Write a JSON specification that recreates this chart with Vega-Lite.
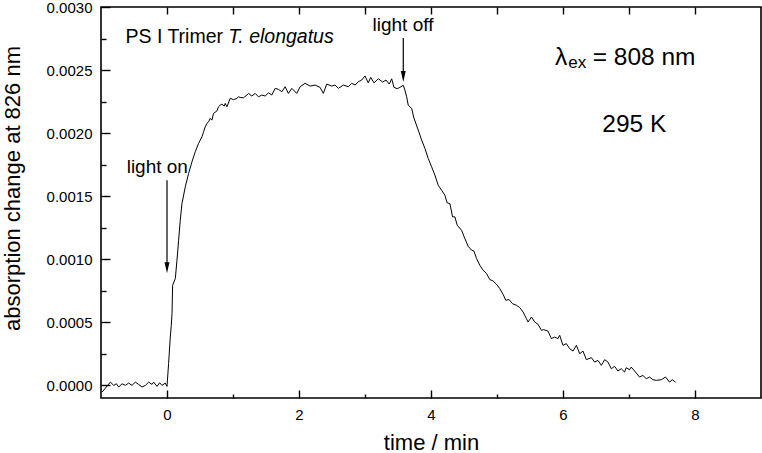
{
  "$schema": "https://vega.github.io/schema/vega-lite/v6.json",
  "autosize": {"type": "none"},
  "padding": {"left": 101, "top": 7, "right": 1, "bottom": 55},
  "width": 660,
  "height": 391,
  "background": "white",
  "config": {
    "view": {"stroke": "black", "strokeWidth": 1.6},
    "axis": {
      "domain": false, "grid": false,
      "tickColor": "black", "tickWidth": 1.4,
      "labelColor": "black", "labelFont": "Liberation Sans", "labelFontSize": 15,
      "titleFont": "Liberation Sans", "titleFontSize": 22, "titleFontWeight": "normal", "titleColor": "black"
    },
    "text": {"font": "Liberation Sans", "color": "black"}
  },
  "datasets": {
    "curve": [
      {"t": -0.983, "v": -0.000053}, {"t": -0.858, "v": 0.000026}, {"t": -0.807, "v": 0.0}, {"t": -0.767, "v": 0.000013},
      {"t": -0.732, "v": -0.000013}, {"t": -0.681, "v": 0.000013}, {"t": -0.631, "v": 0.0}, {"t": -0.581, "v": 0.000018},
      {"t": -0.530, "v": 0.0}, {"t": -0.480, "v": 0.000026}, {"t": -0.430, "v": 0.000008}, {"t": -0.378, "v": -0.000013},
      {"t": -0.328, "v": 0.0}, {"t": -0.278, "v": 0.000026}, {"t": -0.227, "v": 0.000008}, {"t": -0.203, "v": 0.000026},
      {"t": -0.151, "v": -0.000008}, {"t": -0.112, "v": 0.000021}, {"t": -0.076, "v": 0.0}, {"t": -0.026, "v": 0.000018},
      {"t": 0.0, "v": -0.000008}, {"t": 0.024, "v": 0.000172}, {"t": 0.05, "v": 0.000383}, {"t": 0.065, "v": 0.000476},
      {"t": 0.076, "v": 0.000571}, {"t": 0.085, "v": 0.000794}, {"t": 0.126, "v": 0.000847}, {"t": 0.151, "v": 0.000992},
      {"t": 0.176, "v": 0.001151}, {"t": 0.201, "v": 0.00131}, {"t": 0.227, "v": 0.001442}, {"t": 0.277, "v": 0.001574},
      {"t": 0.327, "v": 0.00168}, {"t": 0.378, "v": 0.001772}, {"t": 0.428, "v": 0.001852}, {"t": 0.478, "v": 0.001918},
      {"t": 0.530, "v": 0.001971}, {"t": 0.554, "v": 0.00201}, {"t": 0.579, "v": 0.00205}, {"t": 0.605, "v": 0.002077},
      {"t": 0.630, "v": 0.00209}, {"t": 0.655, "v": 0.002117}, {"t": 0.681, "v": 0.002103}, {"t": 0.705, "v": 0.002156},
      {"t": 0.756, "v": 0.002176}, {"t": 0.781, "v": 0.002209}, {"t": 0.806, "v": 0.002222}, {"t": 0.832, "v": 0.00223},
      {"t": 0.867, "v": 0.002214}, {"t": 0.882, "v": 0.002236}, {"t": 0.908, "v": 0.002209}, {"t": 0.958, "v": 0.002276},
      {"t": 1.008, "v": 0.002265}, {"t": 1.059, "v": 0.002276}, {"t": 1.084, "v": 0.002288}, {"t": 1.109, "v": 0.002283},
      {"t": 1.159, "v": 0.00228}, {"t": 1.210, "v": 0.002302}, {"t": 1.235, "v": 0.002315}, {"t": 1.286, "v": 0.002294},
      {"t": 1.336, "v": 0.002315}, {"t": 1.386, "v": 0.002288}, {"t": 1.437, "v": 0.002302}, {"t": 1.487, "v": 0.002294},
      {"t": 1.538, "v": 0.00232}, {"t": 1.588, "v": 0.002302}, {"t": 1.639, "v": 0.002355}, {"t": 1.689, "v": 0.002347},
      {"t": 1.740, "v": 0.002328}, {"t": 1.790, "v": 0.002368}, {"t": 1.840, "v": 0.002315}, {"t": 1.891, "v": 0.002355},
      {"t": 1.967, "v": 0.002315}, {"t": 2.017, "v": 0.002368}, {"t": 2.092, "v": 0.002395}, {"t": 2.168, "v": 0.002373},
      {"t": 2.244, "v": 0.002381}, {"t": 2.319, "v": 0.002363}, {"t": 2.369, "v": 0.002315}, {"t": 2.420, "v": 0.002389},
      {"t": 2.496, "v": 0.002373}, {"t": 2.546, "v": 0.002381}, {"t": 2.596, "v": 0.002355}, {"t": 2.672, "v": 0.002381},
      {"t": 2.747, "v": 0.002368}, {"t": 2.799, "v": 0.002395}, {"t": 2.849, "v": 0.002381}, {"t": 2.899, "v": 0.002407},
      {"t": 2.950, "v": 0.002421}, {"t": 3.0, "v": 0.002453}, {"t": 3.050, "v": 0.002399}, {"t": 3.086, "v": 0.002442},
      {"t": 3.136, "v": 0.002399}, {"t": 3.202, "v": 0.002431}, {"t": 3.268, "v": 0.002405}, {"t": 3.318, "v": 0.002421},
      {"t": 3.368, "v": 0.002389}, {"t": 3.404, "v": 0.002431}, {"t": 3.439, "v": 0.002363}, {"t": 3.489, "v": 0.002352},
      {"t": 3.529, "v": 0.002363}, {"t": 3.580, "v": 0.002379}, {"t": 3.605, "v": 0.002341}, {"t": 3.631, "v": 0.002288},
      {"t": 3.655, "v": 0.002222}, {"t": 3.707, "v": 0.002196}, {"t": 3.741, "v": 0.00212}, {"t": 3.806, "v": 0.002025},
      {"t": 3.858, "v": 0.001945}, {"t": 3.908, "v": 0.001879}, {"t": 3.958, "v": 0.001799}, {"t": 4.009, "v": 0.001733},
      {"t": 4.059, "v": 0.001667}, {"t": 4.109, "v": 0.001587}, {"t": 4.160, "v": 0.001548}, {"t": 4.210, "v": 0.001508},
      {"t": 4.245, "v": 0.001447}, {"t": 4.286, "v": 0.001442}, {"t": 4.327, "v": 0.001336}, {"t": 4.362, "v": 0.001336},
      {"t": 4.397, "v": 0.00127}, {"t": 4.463, "v": 0.00123}, {"t": 4.513, "v": 0.001164}, {"t": 4.563, "v": 0.001103},
      {"t": 4.614, "v": 0.001072}, {"t": 4.649, "v": 0.001066}, {"t": 4.690, "v": 0.001006}, {"t": 4.740, "v": 0.000952},
      {"t": 4.790, "v": 0.000913}, {"t": 4.841, "v": 0.000887}, {"t": 4.891, "v": 0.000839}, {"t": 4.941, "v": 0.000828},
      {"t": 4.992, "v": 0.000802}, {"t": 5.042, "v": 0.000767}, {"t": 5.092, "v": 0.000722}, {"t": 5.133, "v": 0.000675},
      {"t": 5.183, "v": 0.00068}, {"t": 5.234, "v": 0.000648}, {"t": 5.295, "v": 0.000635}, {"t": 5.345, "v": 0.000617},
      {"t": 5.395, "v": 0.000582}, {"t": 5.446, "v": 0.000529}, {"t": 5.471, "v": 0.000502}, {"t": 5.522, "v": 0.000542},
      {"t": 5.572, "v": 0.000502}, {"t": 5.622, "v": 0.000484}, {"t": 5.673, "v": 0.000437}, {"t": 5.708, "v": 0.000442},
      {"t": 5.773, "v": 0.00043}, {"t": 5.824, "v": 0.000371}, {"t": 5.874, "v": 0.000383}, {"t": 5.924, "v": 0.000371},
      {"t": 5.950, "v": 0.000397}, {"t": 6.000, "v": 0.000317}, {"t": 6.051, "v": 0.000331}, {"t": 6.101, "v": 0.000291},
      {"t": 6.151, "v": 0.000272}, {"t": 6.203, "v": 0.000317}, {"t": 6.253, "v": 0.000251}, {"t": 6.303, "v": 0.000272},
      {"t": 6.354, "v": 0.000204}, {"t": 6.430, "v": 0.00022}, {"t": 6.480, "v": 0.000185}, {"t": 6.530, "v": 0.000198},
      {"t": 6.581, "v": 0.000159}, {"t": 6.631, "v": 0.000204}, {"t": 6.681, "v": 0.000185}, {"t": 6.732, "v": 0.000132},
      {"t": 6.782, "v": 0.000151}, {"t": 6.832, "v": 0.000114}, {"t": 6.883, "v": 0.000132}, {"t": 6.933, "v": 0.000106},
      {"t": 6.959, "v": 0.00014}, {"t": 7.009, "v": 0.000124}, {"t": 7.034, "v": 0.000145}, {"t": 7.110, "v": 0.000098},
      {"t": 7.160, "v": 0.000066}, {"t": 7.210, "v": 0.000079}, {"t": 7.262, "v": 0.000053}, {"t": 7.312, "v": 0.000066},
      {"t": 7.362, "v": 0.000045}, {"t": 7.413, "v": 0.00004}, {"t": 7.489, "v": 0.000045}, {"t": 7.554, "v": 0.000066},
      {"t": 7.614, "v": 0.000026}, {"t": 7.655, "v": 0.000045}, {"t": 7.705, "v": 0.000026}
    ]
  },
  "layer": [
    {
      "data": {"name": "curve"},
      "mark": {"type": "line", "color": "black", "strokeWidth": 1, "clip": true},
      "encoding": {
        "x": {"field": "t", "type": "quantitative",
          "scale": {"domain": [-1, 9], "nice": false, "zero": false},
          "axis": {"orient": "bottom", "values": [0, 2, 4, 6, 8], "tickSize": -8, "labelPadding": 17,
            "title": "time / min", "titleX": 330, "titleY": 51, "titleBaseline": "alphabetic", "titleAlign": "center"}},
        "y": {"field": "v", "type": "quantitative",
          "scale": {"domain": [-0.0001, 0.003], "nice": false, "zero": false},
          "axis": {"orient": "left", "values": [0, 0.0005, 0.001, 0.0015, 0.002, 0.0025, 0.003], "format": ".4f",
            "tickSize": -9, "labelPadding": 18,
            "title": "absorption change at 826 nm", "titleX": -89, "titleY": 181, "titleAngle": -90,
            "titleBaseline": "middle", "titleAlign": "center"}}
      }
    },
    {
      "data": {"values": [
        {"t": 0, "v0": 0.001627, "v1": 0.00095},
        {"t": 3.58, "v0": 0.002754, "v1": 0.00247}
      ]},
      "mark": {"type": "rule", "color": "black", "strokeWidth": 1.2},
      "encoding": {
        "x": {"field": "t", "type": "quantitative",
          "axis": {"orient": "bottom", "values": [1, 3, 5, 7], "tickSize": -4, "labels": false, "title": null}},
        "y": {"field": "v0", "type": "quantitative",
          "axis": {"orient": "left", "values": [0.00025, 0.00075, 0.00125, 0.00175, 0.00225, 0.00275], "tickSize": -5, "labels": false, "title": null}},
        "y2": {"field": "v1"}
      }
    },
    {
      "data": {"values": [
        {"t": 0, "v": 0.000889},
        {"t": 3.58, "v": 0.002405}
      ]},
      "mark": {"type": "point", "shape": "M-0.45,-2L0.45,-2L0,0Z", "filled": true, "color": "black", "opacity": 1, "size": 121},
      "encoding": {
        "x": {"field": "t", "type": "quantitative",
          "axis": {"orient": "top", "values": [0, 1, 2, 3, 4, 5, 6, 7, 8], "tickSize": -7, "labels": false, "title": null}},
        "y": {"field": "v", "type": "quantitative", "axis": null}
      }
    },
    {
      "data": {"values": [
        {"t": -0.147, "v": 0.001683, "label": "light on"},
        {"t": 3.575, "v": 0.00281, "label": "light off"}
      ]},
      "mark": {"type": "text", "fontSize": 19, "align": "center", "baseline": "alphabetic"},
      "encoding": {
        "x": {"field": "t", "type": "quantitative", "axis": null},
        "y": {"field": "v", "type": "quantitative", "axis": null},
        "text": {"field": "label"}
      }
    },
    {
      "data": {"values": [
        {"t": -0.629, "v": 0.002717, "label": "PS I Trimer"}
      ]},
      "mark": {"type": "text", "fontSize": 19.5, "align": "left", "baseline": "alphabetic"},
      "encoding": {
        "x": {"field": "t", "type": "quantitative", "axis": null},
        "y": {"field": "v", "type": "quantitative", "axis": null},
        "text": {"field": "label"}
      }
    },
    {
      "data": {"values": [
        {"t": 0.927, "v": 0.002717, "label": "T. elongatus"}
      ]},
      "mark": {"type": "text", "fontSize": 19.5, "fontStyle": "italic", "align": "left", "baseline": "alphabetic"},
      "encoding": {
        "x": {"field": "t", "type": "quantitative", "axis": null},
        "y": {"field": "v", "type": "quantitative", "axis": null},
        "text": {"field": "label"}
      }
    },
    {
      "data": {"values": [
        {"t": 5.88, "v": 0.00254, "label": "λ"},
        {"t": 6.45, "v": 0.00254, "label": "= 808 nm"},
        {"t": 6.596, "v": 0.00201, "label": "295 K"}
      ]},
      "mark": {"type": "text", "fontSize": 24.5, "align": "left", "baseline": "alphabetic"},
      "encoding": {
        "x": {"field": "t", "type": "quantitative", "axis": null},
        "y": {"field": "v", "type": "quantitative", "axis": null},
        "text": {"field": "label"}
      }
    },
    {
      "data": {"values": [
        {"t": 6.08, "v": 0.002516, "label": "ex"}
      ]},
      "mark": {"type": "text", "fontSize": 17, "align": "left", "baseline": "alphabetic"},
      "encoding": {
        "x": {"field": "t", "type": "quantitative", "axis": null},
        "y": {"field": "v", "type": "quantitative", "axis": null},
        "text": {"field": "label"}
      }
    }
  ],
  "resolve": {"axis": {"x": "independent", "y": "independent"}}
}
